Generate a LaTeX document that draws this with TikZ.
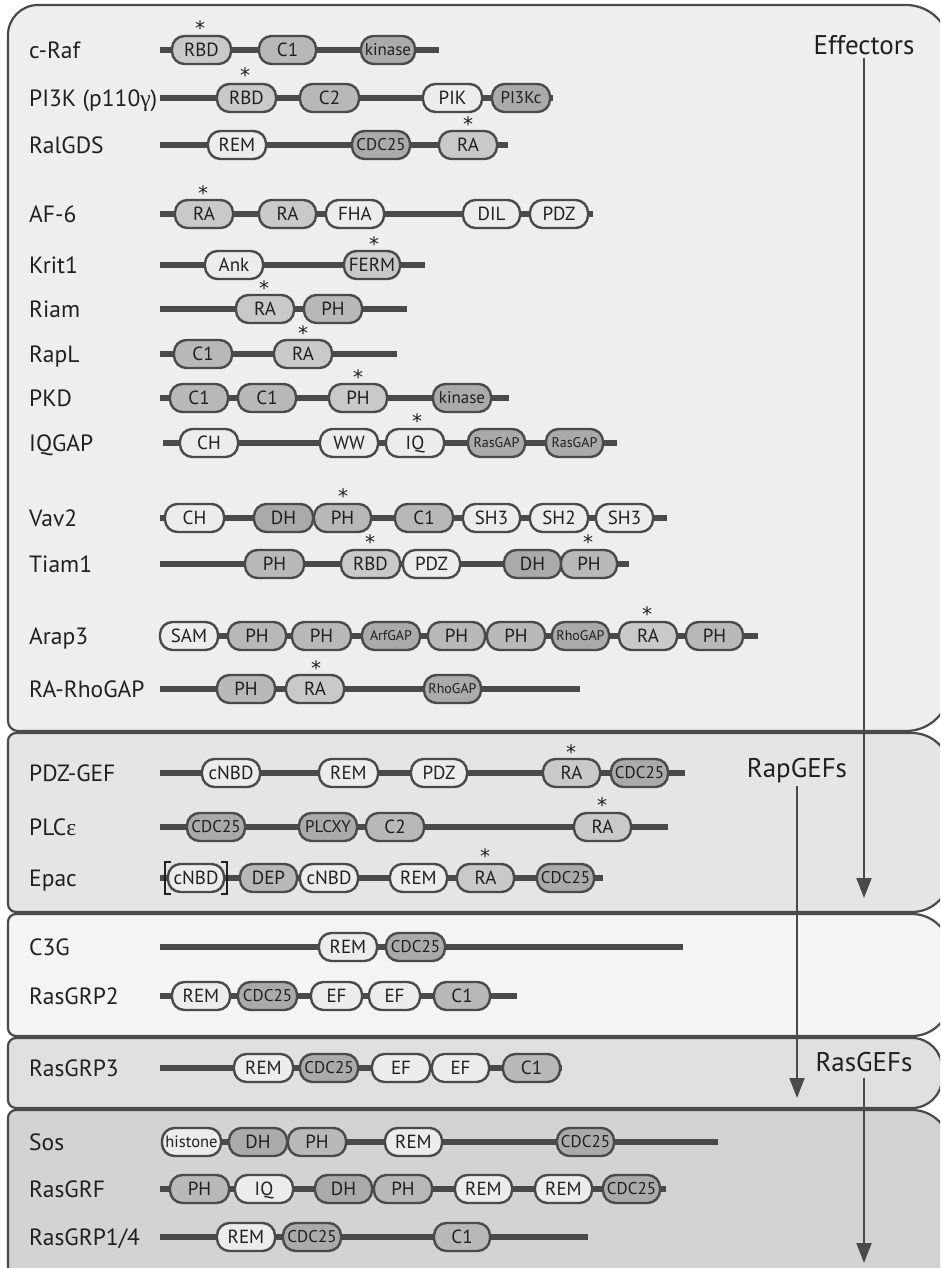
\documentclass[tikz,border=0pt]{standalone}
\usepackage{fontspec}
\setmainfont{PT Sans}
\newfontfamily\grk{Liberation Serif}
\newfontfamily\astf{DejaVu Sans}
\usetikzlibrary{arrows.meta}
\definecolor{bord}{HTML}{4A4A4A}
\definecolor{txt}{HTML}{231F20}
\definecolor{cL}{HTML}{EBECED}
\definecolor{cM}{HTML}{C8C9CB}
\definecolor{cD}{HTML}{B7B8BA}
\definecolor{cK}{HTML}{A9AAAC}
\definecolor{pA}{HTML}{EEEEEE}
\definecolor{pB}{HTML}{E4E5E6}
\definecolor{pC}{HTML}{F4F4F4}
\definecolor{pD}{HTML}{DFE0E1}
\definecolor{pE}{HTML}{D2D3D4}
\newcommand\mylab{\fontsize{23.5}{26}\selectfont}
\newcommand\mydom{\fontsize{19}{21}\selectfont}
\newcommand\mysm{\fontsize{17}{19}\selectfont}
\newcommand\myxs{\fontsize{14}{16}\selectfont}
\newcommand\myhis{\fontsize{16.5}{18}\selectfont}
\newcommand\myast{\astf\fontsize{20}{22}\selectfont}
\newcommand\mygrp{\fontsize{27}{30}\selectfont}
\tikzset{
  dom/.style={draw=bord, line width=2.4pt, rounded corners=12.5pt, minimum height=28pt,
    inner sep=0pt, font=\mydom, text=txt, text height=13.3pt, text depth=0pt},
  fL/.style={fill=cL}, fM/.style={fill=cM}, fD/.style={fill=cD}, fK/.style={fill=cK},
  sm/.style={font=\mysm, text height=11.9pt},
  xs/.style={font=\myxs, text height=9.8pt},
  his/.style={font=\myhis, text height=11.5pt},
  bb/.style={draw=bord, line width=5.5pt},
  lab/.style={anchor=west, font=\mylab, text=txt, inner sep=0pt, text height=16.4pt, text depth=0pt},
  ast/.style={font=\myast, inner sep=0pt, outer sep=0pt, text=txt, anchor=center},
  panel/.style={draw=bord, line width=2.2pt},
  grp/.style={font=\mygrp, text=txt, inner sep=0pt, text height=19pt, text depth=0pt},
  garrow/.style={draw=bord, line width=2pt, -{Triangle[length=20pt,width=15pt]}},
  brk/.style={draw=txt, line width=2.4pt},
}
\newcommand\dmn[6]{\node[dom,#5,minimum width={#3-#2}] (#1) at ({(#2+#3)/2},-#4) {#6};}
\newcommand\rw[5]{\node[lab] (#1) at (29,-#3) {#2};
  \coordinate (#1s) at (#4,-#3); \coordinate (#1e) at (#5,-#3);
  \draw[bb] (#1s) -- (#1e);}
\newcommand\astr[3]{\node[ast] (#1) at (#2,{-#3+3}) {\raisebox{-8.4pt}[6.9pt][0pt]{*}};}
\begin{document}
\begin{tikzpicture}[x=1pt,y=1pt]
\useasboundingbox (0,0) rectangle (940,-1268);
\fill[white] (0,0) rectangle (940,-1268);
\begin{scope}
\clip (0,0) rectangle (940,-1268);
% panels
\draw[panel,fill=pA] (8,-35) -- (8,-721) arc[start angle=180,end angle=270,radius=10]
  -- (906,-731) arc[start angle=270,end angle=360,radius=44] -- (950,-49)
  arc[start angle=0,end angle=90,radius=44] -- (38,-5) arc[start angle=90,end angle=180,radius=30] -- cycle;
\draw[panel,fill=pB] (8,-741) -- (8,-904) arc[start angle=180,end angle=270,radius=8]
  -- (912,-912) arc[start angle=270,end angle=360,radius=38] -- (950,-771)
  arc[start angle=0,end angle=90,radius=38] -- (16,-733) arc[start angle=90,end angle=180,radius=8] -- cycle;
\draw[panel,fill=pC] (8,-922) -- (8,-1028) arc[start angle=180,end angle=270,radius=8]
  -- (912,-1036) arc[start angle=270,end angle=360,radius=38] -- (950,-952)
  arc[start angle=0,end angle=90,radius=38] -- (16,-914) arc[start angle=90,end angle=180,radius=8] -- cycle;
\draw[panel,fill=pD] (8,-1046) -- (8,-1100) arc[start angle=180,end angle=270,radius=8]
  -- (912,-1108) arc[start angle=270,end angle=360,radius=30] -- (942,-1068)
  arc[start angle=0,end angle=90,radius=30] -- (16,-1038) arc[start angle=90,end angle=180,radius=8] -- cycle;
\draw[panel,fill=pE] (8,-1118) -- (8,-1282) arc[start angle=180,end angle=270,radius=8]
  -- (912,-1290) arc[start angle=270,end angle=360,radius=38] -- (950,-1148)
  arc[start angle=0,end angle=90,radius=38] -- (16,-1110) arc[start angle=90,end angle=180,radius=8] -- cycle;
\end{scope}

% c-Raf
\rw{r1}{c-Raf}{50}{160}{439}
\dmn{r1a}{172}{231}{50}{fM}{RBD}
\dmn{r1b}{259}{316}{50}{fD}{C1}
\dmn{r1c}{361}{415}{50}{fK,sm}{kinase}
\astr{s1}{200}{27}
% PI3K
\rw{r2}{PI3K (p110{\grk γ})}{98}{160}{553}
\dmn{r2a}{217}{276}{98}{fM}{RBD}
\dmn{r2b}{300}{359}{98}{fD}{C2}
\dmn{r2c}{423}{482}{98}{fL}{PIK}
\dmn{r2d}{492}{550}{98}{fK,sm}{PI3Kc}
\astr{s2}{245}{74}
% RalGDS
\rw{r3}{RalGDS}{145}{160}{508}
\dmn{r3a}{208}{266}{145}{fL}{REM}
\dmn{r3b}{352}{410}{145}{fK,sm}{CDC25}
\dmn{r3c}{439}{497}{145}{fM}{RA}
\astr{s3}{468}{123}
% AF-6
\rw{r4}{AF-6}{214}{160}{593}
\dmn{r4a}{175}{233}{214}{fM}{RA}
\dmn{r4b}{259}{316}{214}{fM}{RA}
\dmn{r4c}{326}{384}{214}{fL}{FHA}
\dmn{r4d}{463}{520}{214}{fL}{DIL}
\dmn{r4e}{530}{588}{214}{fL}{PDZ}
\astr{s4}{203}{192}
% Krit1
\rw{r5}{Krit1}{265}{160}{425}
\dmn{r5a}{205}{263}{265}{fL}{Ank}
\dmn{r5b}{344}{400}{265}{fM}{FERM}
\astr{s5}{374}{243}
% Riam
\rw{r6}{Riam}{309}{160}{407}
\dmn{r6a}{236}{294}{309}{fM}{RA}
\dmn{r6b}{304}{362}{309}{fD}{PH}
\astr{s6}{264}{287}
% RapL
\rw{r7}{RapL}{354}{160}{397}
\dmn{r7a}{174}{232}{354}{fD}{C1}
\dmn{r7b}{274}{332}{354}{fM}{RA}
\astr{s7}{303}{332}
% PKD
\rw{r8}{PKD}{398}{160}{509}
\dmn{r8a}{170}{228}{398}{fD}{C1}
\dmn{r8b}{238}{296}{398}{fD}{C1}
\dmn{r8c}{329}{387}{398}{fM}{PH}
\dmn{r8d}{433}{491}{398}{fK,sm}{kinase}
\astr{s8}{358}{376}
% IQGAP
\rw{r9}{IQGAP}{443}{163}{617}
\dmn{r9a}{180}{238}{443}{fL}{CH}
\dmn{r9b}{320}{378}{443}{fL}{WW}
\dmn{r9c}{386}{444}{443}{fL}{IQ}
\dmn{r9d}{468}{525}{443}{fK,xs}{RasGAP}
\dmn{r9e}{546}{603}{443}{fK,xs}{RasGAP}
\astr{s9}{417}{420}
% Vav2
\rw{r10}{Vav2}{518}{160}{667}
\dmn{r10a}{165}{224}{518}{fL}{CH}
\dmn{r10b}{254}{313}{518}{fK}{DH}
\dmn{r10c}{314}{371}{518}{fD}{PH}
\dmn{r10d}{395}{453}{518}{fD}{C1}
\dmn{r10e}{463}{520}{518}{fL}{SH3}
\dmn{r10f}{530}{588}{518}{fL}{SH2}
\dmn{r10g}{596}{653}{518}{fL}{SH3}
\astr{s10}{343}{495}
% Tiam1
\rw{r11}{Tiam1}{564}{160}{629}
\dmn{r11a}{245}{304}{564}{fD}{PH}
\dmn{r11b}{341}{400}{564}{fM}{RBD}
\dmn{r11c}{403}{460}{564}{fL}{PDZ}
\dmn{r11d}{504}{561}{564}{fK}{DH}
\dmn{r11e}{561}{617}{564}{fD}{PH}
\astr{s11a}{370}{541}
\astr{s11b}{588}{541}
% Arap3
\rw{r12}{Arap3}{636}{160}{758}
\dmn{r12a}{160}{218}{636}{fL}{SAM}
\dmn{r12b}{228}{286}{636}{fD}{PH}
\dmn{r12c}{292}{351}{636}{fD}{PH}
\dmn{r12d}{362}{420}{636}{fK,xs}{ArfGAP}
\dmn{r12e}{428}{485}{636}{fD}{PH}
\dmn{r12f}{487}{545}{636}{fD}{PH}
\dmn{r12g}{552}{609}{636}{fK,xs}{RhoGAP}
\dmn{r12h}{619}{677}{636}{fM}{RA}
\dmn{r12i}{686}{743}{636}{fD}{PH}
\astr{s12}{647}{613}
% RA-RhoGAP
\rw{r13}{RA-RhoGAP}{689}{160}{580}
\dmn{r13a}{217}{275}{689}{fD}{PH}
\dmn{r13b}{286}{344}{689}{fM}{RA}
\dmn{r13c}{424}{481}{689}{fK,xs}{RhoGAP}
\astr{s13}{316}{667}
% PDZ-GEF
\rw{r14}{PDZ-GEF}{773}{160}{685}
\dmn{r14a}{202}{260}{773}{fL}{cNBD}
\dmn{r14b}{319}{378}{773}{fL}{REM}
\dmn{r14c}{411}{467}{773}{fL}{PDZ}
\dmn{r14d}{543}{600}{773}{fM}{RA}
\dmn{r14e}{611}{668}{773}{fK,sm}{CDC25}
\astr{s14}{571}{751}
% PLCe
\rw{r15}{PLC{\grk ε}}{827}{160}{668}
\dmn{r15a}{187}{245}{827}{fK,sm}{CDC25}
\dmn{r15b}{299}{357}{827}{fK,sm}{PLCXY}
\dmn{r15c}{366}{424}{827}{fD}{C2}
\dmn{r15d}{574}{631}{827}{fM}{RA}
\astr{s15}{602}{804}
% Epac
\rw{r16}{Epac}{878}{160}{603}
\dmn{r16a}{168}{224}{878}{fL}{cNBD}
\dmn{r16b}{240}{297}{878}{fD}{DEP}
\dmn{r16c}{300}{358}{878}{fL}{cNBD}
\dmn{r16d}{390}{447}{878}{fL}{REM}
\dmn{r16e}{457}{514}{878}{fM}{RA}
\dmn{r16f}{537}{594}{878}{fK,sm}{CDC25}
\astr{s16}{485}{855}
\draw[brk] (171,-862) -- (165,-862) -- (165,-894) -- (171,-894);
\draw[brk] (221,-862) -- (227,-862) -- (227,-894) -- (221,-894);
% C3G
\rw{r17}{C3G}{947}{160}{683}
\dmn{r17a}{319}{377}{947}{fL}{REM}
\dmn{r17b}{386}{445}{947}{fK,sm}{CDC25}
% RasGRP2
\rw{r18}{RasGRP2}{996}{160}{517}
\dmn{r18a}{172}{230}{996}{fL}{REM}
\dmn{r18b}{238}{297}{996}{fK,sm}{CDC25}
\dmn{r18c}{311}{362}{996}{fL}{EF}
\dmn{r18d}{369}{420}{996}{fL}{EF}
\dmn{r18e}{434}{490}{996}{fD}{C1}
% RasGRP3
\rw{r19}{RasGRP3}{1068}{160}{562}
\dmn{r19a}{234}{293}{1068}{fL}{REM}
\dmn{r19b}{300}{358}{1068}{fK,sm}{CDC25}
\dmn{r19c}{372}{430}{1068}{fL}{EF}
\dmn{r19d}{432}{489}{1068}{fL}{EF}
\dmn{r19e}{503}{560}{1068}{fD}{C1}
% Sos
\rw{r20}{Sos}{1142}{162}{718}
\dmn{r20a}{162}{221}{1142}{fL,his}{histone}
\dmn{r20b}{229}{287}{1142}{fK}{DH}
\dmn{r20c}{288}{346}{1142}{fD}{PH}
\dmn{r20d}{385}{442}{1142}{fL}{REM}
\dmn{r20e}{557}{614}{1142}{fK,sm}{CDC25}
% RasGRF
\rw{r21}{RasGRF}{1189}{160}{666}
\dmn{r21a}{170}{229}{1189}{fD}{PH}
\dmn{r21b}{235}{293}{1189}{fL}{IQ}
\dmn{r21c}{315}{372}{1189}{fK}{DH}
\dmn{r21d}{374}{432}{1189}{fD}{PH}
\dmn{r21e}{455}{512}{1189}{fL}{REM}
\dmn{r21f}{535}{592}{1189}{fL}{REM}
\dmn{r21g}{603}{660}{1189}{fK,sm}{CDC25}
% RasGRP1/4
\rw{r22}{RasGRP1/4}{1237}{160}{588}
\dmn{r22a}{217}{275}{1237}{fL}{REM}
\dmn{r22b}{283}{341}{1237}{fK,sm}{CDC25}
\dmn{r22c}{434}{490}{1237}{fD}{C1}

% group arrows
\node[grp] (eff) at (864,-45) {Effectors};
\coordinate (effend) at (864,-898);
\draw[garrow] ([yshift=-3pt]eff.south) -- (effend);
\node[grp] (rap) at (797,-768) {RapGEFs};
\coordinate (rapend) at (797,-1098);
\draw[garrow] ([yshift=-8pt]rap.south) -- (rapend);
\node[grp] (ras) at (864,-1062) {RasGEFs};
\coordinate (rasend) at (864,-1263);
\draw[garrow] ([yshift=-6pt]ras.south) -- (rasend);
\end{tikzpicture}
\end{document}
